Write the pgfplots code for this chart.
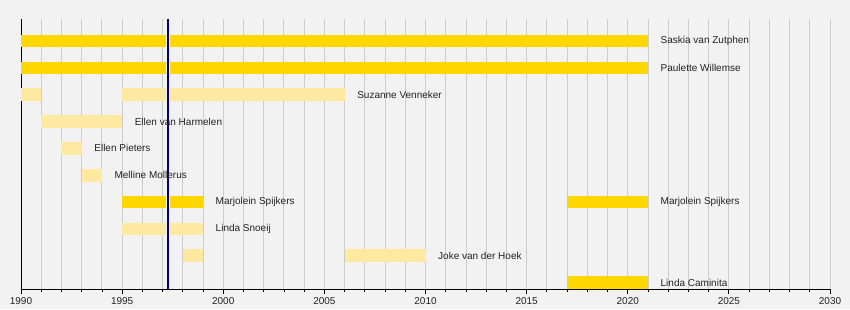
\documentclass[border=0pt]{standalone}
\usepackage{fontspec}
\setmainfont{Liberation Sans}
\usepackage{pgfplots}
\pgfplotsset{compat=1.18}
\usetikzlibrary{backgrounds}
\definecolor{bg}{RGB}{242,242,242}
\definecolor{gold}{RGB}{255,215,0}
\definecolor{pale}{RGB}{255,233,160}
\definecolor{gridc}{RGB}{204,204,204}
\definecolor{navyline}{RGB}{0,0,128}
\definecolor{txt}{RGB}{34,34,34}
\begin{document}
\begin{tikzpicture}
\begin{axis}[
  scale only axis, width=809pt, height=270pt,
  xmin=1990, xmax=2030, ymin=0, ymax=270,
  axis x line*=bottom, axis y line*=left,
  ytick=\empty,
  xtick={1990,1995,...,2030},
  minor x tick num=4,
  xmajorgrids, xminorgrids,
  major grid style={gridc, line width=0.9pt},
  minor grid style={gridc, line width=0.9pt},
  tick align=outside,
  major tick length=5pt, minor tick length=3pt,
  tick style={black, line width=0.8pt},
  axis line style={black, line width=1pt},
  ticklabel style={font=\fontsize{10}{12}\selectfont, text=txt},
  /pgf/number format/assume math mode=true,
  /pgf/number format/1000 sep={},
  clip=false,
]
\coordinate (sw) at (rel axis cs:0,0);
\coordinate (ne) at (rel axis cs:1,1);
% gold bars
\addplot[gold, line width=12.6pt, unbounded coords=jump] coordinates {
 (1990,248) (2021,248) (nan,nan)
 (1990,221.2) (2021,221.2) (nan,nan)
 (1995,87) (1999,87) (nan,nan)
 (2017,87) (2021,87) (nan,nan)
 (2017,6.5) (2021,6.5)
};
% pale bars
\addplot[pale, line width=12.6pt, unbounded coords=jump] coordinates {
 (1990,194.3) (1991,194.3) (nan,nan)
 (1995,194.3) (2006,194.3) (nan,nan)
 (1991,167.5) (1995,167.5) (nan,nan)
 (1992,140.7) (1993,140.7) (nan,nan)
 (1993,113.8) (1994,113.8) (nan,nan)
 (1995,60.2) (1999,60.2) (nan,nan)
 (1998,33.3) (1999,33.3) (nan,nan)
 (2006,33.3) (2010,33.3)
};
% current-date line
\addplot[bg, line width=3.5pt] coordinates {(1997.27,1.5) (1997.27,270)};
\addplot[navyline, line width=2pt] coordinates {(1997.27,0) (1997.27,270)};
% labels
\begin{scope}[every node/.style={anchor=west, inner sep=0pt, xshift=12.5pt, font=\fontsize{10}{12}\selectfont, text=txt}]
\node at (axis cs:2021,248) {Saskia van Zutphen};
\node at (axis cs:2021,221.2) {Paulette Willemse};
\node at (axis cs:2006,194.3) {Suzanne Venneker};
\node at (axis cs:1995,167.5) {Ellen van Harmelen};
\node at (axis cs:1993,140.7) {Ellen Pieters};
\node at (axis cs:1994,113.8) {Melline Mollerus};
\node at (axis cs:1999,87) {Marjolein Spijkers};
\node at (axis cs:2021,87) {Marjolein Spijkers};
\node at (axis cs:1999,60.2) {Linda Snoeij};
\node at (axis cs:2010,33.3) {Joke van der Hoek};
\node at (axis cs:2021,6.5) {Linda Caminita};
\end{scope}
\end{axis}
\begin{scope}[on background layer]
\fill[bg] ([xshift=-21pt,yshift=-20pt]sw) rectangle ([xshift=20pt,yshift=19pt]ne);
\end{scope}
\end{tikzpicture}
\end{document}
